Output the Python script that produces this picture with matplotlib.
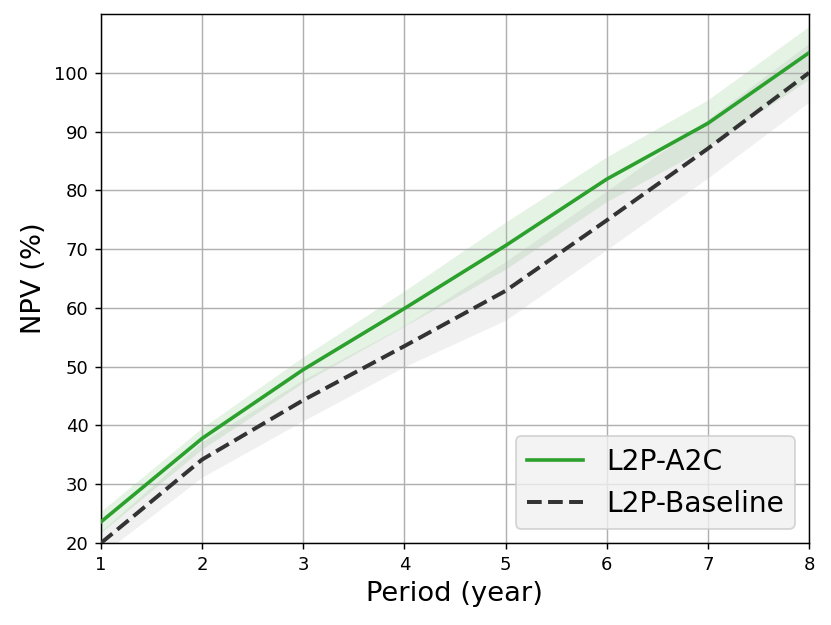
import numpy as np
import matplotlib
matplotlib.use("Agg")
import matplotlib.pyplot as plt

# 数据
periods = [1, 2, 3, 4, 5, 6, 7, 8]
a2c_mean = [23.6, 37.8, 49.5, 59.9, 70.6, 81.9, 91.4, 103.4]
a2c_std = [1.8, 1.8, 2.2, 3.0, 4.0, 3.8, 4.0, 4.5]
base_mean = [20.0, 34.2, 44.3, 53.5, 62.9, 74.9, 87.1, 100.0]
base_std = [2.0, 3.0, 3.5, 3.5, 5.0, 5.0, 5.0, 5.0]

W, H, DPI = 831, 625, 130
fig = plt.figure(figsize=(W / DPI, H / DPI), dpi=DPI)
ax = fig.add_axes([101 / W, (H - 543) / H, (809 - 101) / W, (543 - 14) / H])

x = np.array(periods)
m1, s1 = np.array(a2c_mean), np.array(a2c_std)
m2, s2 = np.array(base_mean), np.array(base_std)

ax.plot(x, m1, color='#2ca02c', lw=2, label='L2P-A2C', zorder=3)
ax.fill_between(x, m1 - s1, m1 + s1, color='#2ca02c', alpha=0.12, lw=0)
ax.plot(x, m2, color='#333333', lw=2.2, ls='--', label='L2P-Baseline', zorder=3)
ax.fill_between(x, m2 - s2, m2 + s2, color='#333333', alpha=0.07, lw=0)

ax.set_xlim(1, 8)
ax.set_ylim(20, 110)
ax.set_yticks(range(20, 101, 10))
ax.set_xticks(periods)
ax.tick_params(labelsize=10)
ax.grid(True)
ax.set_xlabel('Period (year)', fontsize=15.2)
ax.set_ylabel('NPV (%)', fontsize=15.2)
leg = ax.legend(loc='lower right', fontsize=15.6, facecolor='#f0f0f0',
                edgecolor='#cccccc', framealpha=0.8)

fig.savefig('out.png', dpi=DPI)
